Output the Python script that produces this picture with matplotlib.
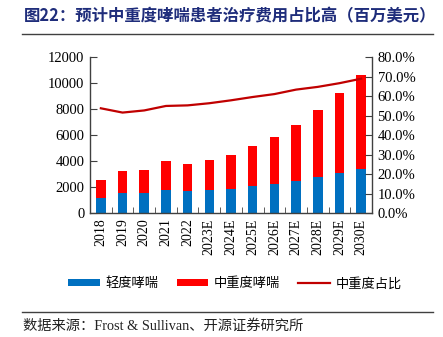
import matplotlib
matplotlib.use("Agg")
import matplotlib.pyplot as plt
from matplotlib.ticker import FuncFormatter, FixedLocator
import numpy as np

plt.rcParams['font.family'] = ['Liberation Serif', 'Noto Sans CJK SC']

years = ["2018", "2019", "2020", "2021", "2022", "2023E", "2024E", "2025E",
         "2026E", "2027E", "2028E", "2029E", "2030E"]
mild = [1160, 1550, 1550, 1750, 1680, 1750, 1850, 2060, 2240, 2450, 2800, 3100, 3420]
total = [2570, 3250, 3350, 3980, 3780, 4050, 4480, 5170, 5880, 6780, 7900, 9220, 10600]
severe = [t - m for t, m in zip(total, mild)]
share = [53.8, 51.6, 52.7, 55.0, 55.3, 56.4, 57.9, 59.6, 61.1, 63.4, 64.8, 66.7, 69.0]

labels = ["轻度哮喘", "中重度哮喘", "中重度占比"]
title = "图22：预计中重度哮喘患者治疗费用占比高（百万美元）"
source = "数据来源：Frost & Sullivan、开源证券研究所"

W, H = 443, 337
fig = plt.figure(figsize=(W / 100, H / 100), dpi=100)
ax = fig.add_axes([90 / W, 1 - 213 / H, (372 - 90) / W, (213 - 57.3) / H])
ax2 = ax.twinx()

x = np.arange(len(years))
bw = 0.44
b1 = ax.bar(x, mild, bw, color="#0070C0", label=labels[0], zorder=2)
b2 = ax.bar(x, severe, bw, bottom=mild, color="#FF0000", label=labels[1], zorder=2)
l1, = ax2.plot(x, share, color="#C00000", lw=1.6, label=labels[2])

axis_color = "#404040"
ax.set_xlim(-0.5, len(years) - 0.5)
ax.set_ylim(0, 12000)
ax.set_yticks(np.arange(0, 12001, 2000))
ax2.set_ylim(0, 80)
ax2.set_yticks(np.arange(0, 80.1, 10))
ax2.yaxis.set_major_formatter(FuncFormatter(lambda v, p: f"{v:.1f}%"))

ax.set_xticks(x)
ax.set_xticklabels(years, rotation=90, fontsize=10)
ax.xaxis.set_minor_locator(FixedLocator(np.arange(0.5, len(years) - 1, 1)))
ax.tick_params(axis="x", which="major", length=0, pad=4)
ax.tick_params(axis="x", which="minor", direction="in", length=4, color=axis_color)
ax.tick_params(axis="y", direction="in", length=5, color=axis_color, labelsize=10.5, pad=4)
ax2.tick_params(axis="y", direction="in", length=5, color=axis_color, labelsize=10.5, pad=4)

for a in (ax, ax2):
    a.spines["top"].set_visible(False)
    for s in ("left", "right", "bottom"):
        a.spines[s].set_color(axis_color)
        a.spines[s].set_linewidth(1.0)
ax.spines["right"].set_visible(False)
ax2.spines["left"].set_visible(False)
ax2.spines["bottom"].set_visible(False)

fig.text(24 / W, 1 - 16 / H, title, fontsize=11.8, fontweight="bold",
         color="#1F2D7B", family=["Noto Sans CJK SC"], va="center", ha="left")
fig.add_artist(plt.Line2D([22 / W, 433 / W], [1 - 33.5 / H, 1 - 33.5 / H],
                          color="#404040", lw=1.0))

leg = fig.legend([b1, b2, l1], labels, loc="center", ncol=3,
                 bbox_to_anchor=(235 / W, 1 - 284 / H), frameon=False,
                 prop={"family": ["Noto Sans CJK SC"], "size": 9.5},
                 handlelength=2.4, handleheight=0.45, columnspacing=1.4, handletextpad=0.4)

fig.add_artist(plt.Line2D([22 / W, 433 / W], [1 - 312 / H, 1 - 312 / H],
                          color="#404040", lw=1.0))
fig.text(23 / W, 1 - 326 / H, source, fontsize=10.3, color="#222222",
         family=["Liberation Serif", "Noto Sans CJK SC"], va="center", ha="left")

fig.savefig("out.png", dpi=100)
